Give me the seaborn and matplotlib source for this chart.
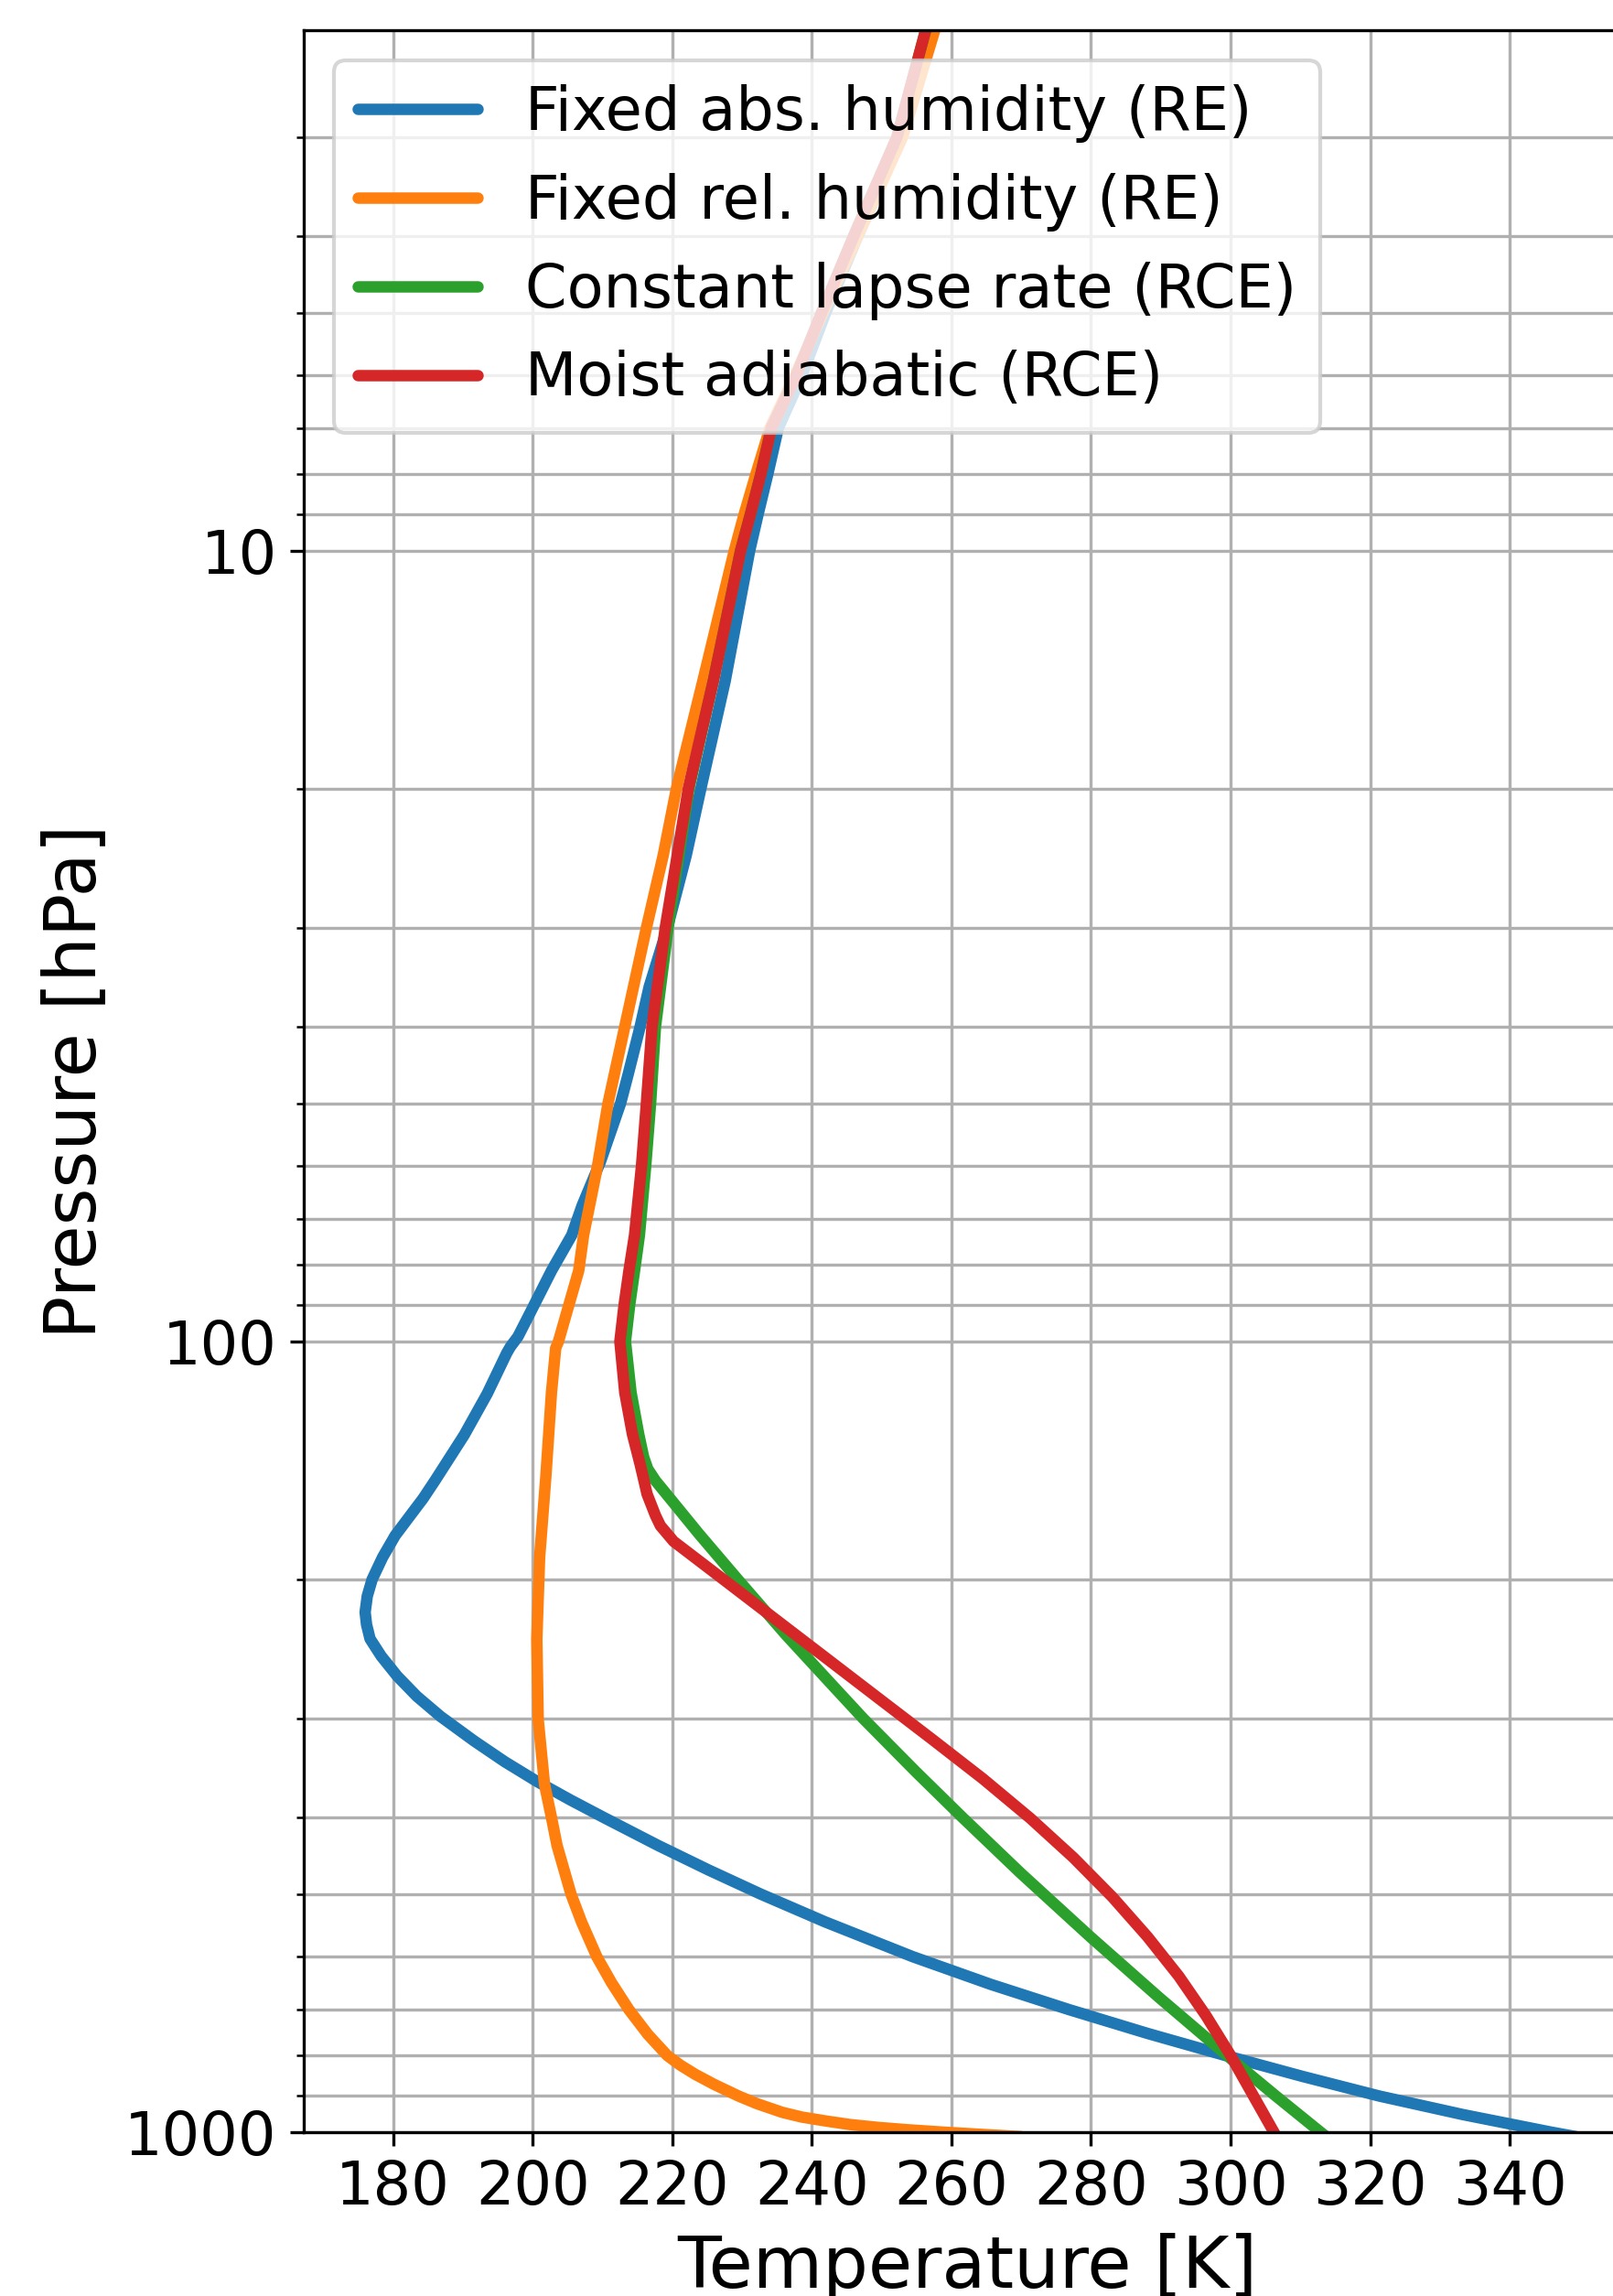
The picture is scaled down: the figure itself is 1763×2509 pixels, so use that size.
import matplotlib
matplotlib.use("Agg")
import matplotlib.pyplot as plt
from matplotlib.ticker import FuncFormatter, NullFormatter
import seaborn as sns

# Temperature profiles [K] on pressure levels [hPa]
p_abs = [2.0, 2.2, 3, 4, 5, 6, 7, 8, 9, 10, 14.6, 20, 24.3, 30, 35.6, 40, 45.9, 50, 59.3, 67.3,
         73.4, 81.4, 91.8, 98.6, 101.6, 103.4, 116.4, 131.3, 150, 158, 166.3, 176, 187.5, 200,
         210, 220, 228, 237.7, 250, 265, 281, 298, 320, 340, 360, 380, 400, 434, 466, 500, 542,
         600, 650, 700, 750, 800, 850, 900, 950, 1000, 1013]
t_abs = [258.0, 256.6, 252.8, 246.6, 242.0, 238.6, 235.2, 233.7, 232.3, 231.1, 227.6, 224.1, 222.0,
         219.3, 216.7, 215.4, 213.7, 212.6, 209.7, 207.1, 205.6, 202.7, 199.7, 197.9, 196.8, 196.3,
         193.5, 190.2, 186.0, 184.3, 182.4, 180.3, 178.5, 177.0, 176.3, 176.0, 176.2, 176.7, 178.3,
         180.6, 183.4, 186.8, 191.6, 196.0, 200.6, 205.4, 210.2, 218.0, 225.2, 232.7, 241.9, 254.5,
         265.6, 276.9, 288.1, 299.3, 310.3, 321.3, 333.3, 346.0, 349.5]

p_rel = [2.0, 2.2, 3, 4, 5, 6, 7, 8, 9, 10, 14.6, 20, 24.3, 30, 40, 50, 60, 73.4, 81.4, 91.8,
         100, 102, 116, 148, 187.5, 238, 301, 363, 400, 434, 500, 542, 600, 647, 700, 752, 800, 823,
         845, 870, 900, 920, 944, 957, 968.5, 978, 986, 993, 1000, 1006, 1013]
t_rel = [259.0, 257.6, 253.0, 246.6, 241.6, 237.6, 234.0, 232.0, 230.3, 228.9, 224.4, 220.6, 218.7,
         216.3, 213.2, 210.8, 209.3, 207.3, 206.6, 204.9, 203.7, 203.3, 202.7, 201.9, 201.0, 200.6,
         200.8, 201.7, 202.7, 203.5, 205.5, 207.0, 209.2, 211.3, 213.8, 216.5, 219.3, 221.2,
         223.3, 226.0, 229.5, 232.1, 235.8, 238.6, 242.2, 245.5, 249.4, 253.8, 259.0, 264.0, 270.0]

p_lapse = [2.0, 2.2, 3, 4, 5, 6, 7, 8, 9, 10, 14.6, 20, 30, 40, 50, 60, 73.4, 81.4, 90, 100,
           116, 131, 140, 145, 150, 160, 175, 200, 235, 270, 300, 350, 400, 470, 566, 676, 808,
           900, 1000, 1013]
t_lapse = [257.8, 256.3, 252.2, 246.0, 241.4, 237.8, 234.2, 232.7, 231.2, 229.8, 225.9, 222.4,
           219.4, 217.6, 216.9, 216.2, 215.3, 214.6, 213.9, 213.3, 214.1, 215.2, 215.9, 216.5,
           217.6, 220.2, 223.8, 229.4, 236.3, 242.6, 247.4, 254.9, 261.6, 269.9, 279.9, 289.8,
           300.1, 306.5, 312.9, 313.7]

p_moist = [2.0, 2.2, 3, 4, 5, 6, 7, 8, 9, 10, 14.6, 20, 30, 40, 50, 60, 73.4, 81.4, 90, 100,
           116, 131, 143, 148, 156, 166, 171, 179, 200.8, 225.3, 252.8, 283.7, 318.3, 357.2,
           400.8, 449.6, 504.5, 566.0, 635.1, 712.6, 799.5, 897.1, 1006.6, 1013]
t_moist = [257.8, 256.3, 252.2, 246.0, 241.4, 237.8, 234.2, 232.7, 231.2, 229.8, 225.9, 222.3,
           219.0, 217.1, 216.3, 215.6, 214.6, 213.8, 213.1, 212.5, 213.2, 214.3, 215.4, 215.8,
           216.4, 217.6, 218.3, 220.2, 227.6, 235.0, 242.4, 249.8, 257.2, 264.5, 271.3, 277.5,
           283.1, 288.1, 292.6, 296.5, 300.0, 303.2, 306.4, 306.6]

labels = ["Fixed abs. humidity (RE)", "Fixed rel. humidity (RE)",
          "Constant lapse rate (RCE)", "Moist adiabatic (RCE)"]
colors = ["#1f77b4", "#ff7f0e", "#2ca02c", "#d62728"]
x_ticks = [180, 200, 220, 240, 260, 280, 300, 320, 340]

plt.rcParams["font.family"] = ["DejaVu Sans"]
plt.rcParams["lines.solid_capstyle"] = "round"

fig = plt.figure(figsize=(1763 / 300, 2509 / 300), dpi=300)
ax = fig.add_axes([0.1883, 0.07134, 0.8225, 0.91531])

profiles = [(t_abs, p_abs), (t_rel, p_rel), (t_lapse, p_lapse), (t_moist, p_moist)]
for (t, p), lab, col in zip(profiles, labels, colors):
    sns.lineplot(x=t, y=p, sort=False, estimator=None, ax=ax,
                 label=lab, color=col, linewidth=3)

ax.set_yscale("log")
ax.set_ylim(1000, 2.2)
ax.set_xlim(167.2, 357.3)
ax.set_xticks(x_ticks)
ax.yaxis.set_major_formatter(FuncFormatter(lambda v, _: f"{v:g}"))
ax.yaxis.set_minor_formatter(NullFormatter())
ax.grid(True, which="both", color="#b0b0b0", linewidth=0.8)
ax.tick_params(labelsize=15.7)

ax.set_xlabel("Temperature [K]", fontsize=18.8)
ax.set_ylabel("Pressure [hPa]", fontsize=18.8)
ax.legend(loc="upper left", fontsize=15.7)

fig.savefig("out.png", dpi=300)
